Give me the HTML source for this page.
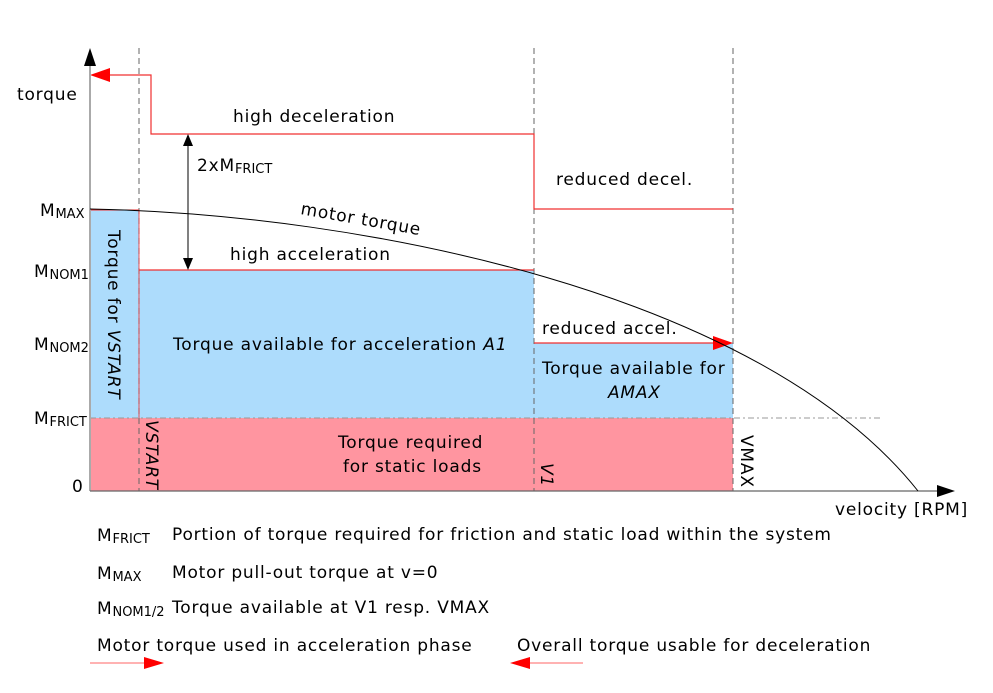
<!DOCTYPE html>
<html><head><style>
body{margin:0;background:#fff}
svg{display:block;font-family:"DejaVu Sans","Liberation Sans",sans-serif;font-size:17px;letter-spacing:0.8px}
</style></head><body>
<svg width="993" height="693" viewBox="0 0 993 693" xmlns="http://www.w3.org/2000/svg">
<rect x="90" y="210" width="49" height="208" fill="#addcfc"/>
<rect x="139" y="270" width="395" height="148" fill="#addcfc"/>
<rect x="534" y="343" width="199" height="75" fill="#addcfc"/>
<rect x="90" y="418" width="643" height="73" fill="#ff95a0"/>
<line x1="90" y1="418" x2="880" y2="418" stroke="#999" stroke-dasharray="6,3,2,3"/>
<g stroke="#666" stroke-dasharray="6,4">
<line x1="139" y1="48" x2="139" y2="491"/>
<line x1="534" y1="48" x2="534" y2="491"/>
<line x1="733" y1="48" x2="733" y2="491"/>
</g>
<path d="M104,75 H151 V134 H534 V209 H733" fill="none" stroke="#f03030" stroke-width="1.2"/>
<path d="M90,75 L110,68 L110,82z" fill="#f00"/>
<line x1="90" y1="210" x2="139" y2="210" stroke="#f03030"/>
<line x1="139" y1="210" x2="139" y2="418" stroke="#f03030" stroke-width="0.8"/>
<line x1="139" y1="270" x2="534" y2="270" stroke="#f03030" stroke-width="1.2"/>
<line x1="534" y1="343" x2="715" y2="343" stroke="#f03030" stroke-width="1.2"/>
<path d="M733,343 L713,336 L713,350z" fill="#f00"/>
<line x1="90" y1="491" x2="90" y2="62" stroke="#aaa" stroke-width="2"/>
<path d="M90,48 L84,66 L96,66z" fill="#000"/>
<line x1="90" y1="491" x2="940" y2="491" stroke="#666" stroke-width="1.2"/>
<path d="M955,491 L937,485 L937,497z" fill="#000"/>
<path d="M90,209 C360,214 760,292 918,491" fill="none" stroke="#000" stroke-width="1"/>
<line x1="188" y1="140" x2="188" y2="264" stroke="#000"/>
<path d="M188,134 L183,146 L193,146z M188,270 L183,258 L193,258z" fill="#000"/>
<text x="17" y="100">torque</text>
<text x="40" y="216">M<tspan font-size="13" letter-spacing="0" dy="2">MAX</tspan></text>
<text x="34" y="277">M<tspan font-size="13" letter-spacing="0" dy="2">NOM1</tspan></text>
<text x="34" y="350">M<tspan font-size="13" letter-spacing="0" dy="2">NOM2</tspan></text>
<text x="34" y="424">M<tspan font-size="13" letter-spacing="0" dy="2">FRICT</tspan></text>
<text x="72" y="492">0</text>
<text x="233" y="122">high deceleration</text>
<text x="197" y="171">2xM<tspan font-size="13" letter-spacing="0" dy="2">FRICT</tspan></text>
<text x="300" y="214" transform="rotate(10 300 214)">motor torque</text>
<text x="230" y="260">high acceleration</text>
<text x="556" y="185">reduced decel.</text>
<text x="542" y="334">reduced accel.</text>
<text x="173" y="350">Torque available for acceleration <tspan font-style="italic">A1</tspan></text>
<text x="542" y="374">Torque available for</text>
<text x="608" y="398" font-style="italic">AMAX</text>
<text x="338" y="448">Torque required</text>
<text x="343" y="472">for static loads</text>
<text x="108" y="230" transform="rotate(90 108 230)">Torque for <tspan font-style="italic">VSTART</tspan></text>
<text x="146" y="420" transform="rotate(90 146 420)" font-style="italic">VSTART</text>
<text x="541" y="463" transform="rotate(90 541 463)" font-style="italic">V1</text>
<text x="741" y="435" transform="rotate(90 741 435)">VMAX</text>
<text x="835" y="515">velocity [RPM]</text>
<text x="97" y="541">M<tspan font-size="13" letter-spacing="0" dy="2">FRICT</tspan></text>
<text x="172" y="540">Portion of torque required for friction and static load within the system</text>
<text x="97" y="579">M<tspan font-size="13" letter-spacing="0" dy="2">MAX</tspan></text>
<text x="172" y="578">Motor pull-out torque at v=0</text>
<text x="97" y="614">M<tspan font-size="13" letter-spacing="0" dy="2">NOM1/2</tspan></text>
<text x="172" y="613">Torque available at V1 resp. VMAX</text>
<text x="97" y="651">Motor torque used in acceleration phase</text>
<text x="517" y="651">Overall torque usable for deceleration</text>
<line x1="90" y1="663" x2="148" y2="663" stroke="#f66"/>
<path d="M164,663 L144,657 L144,669z" fill="#f00"/>
<line x1="530" y1="663" x2="583" y2="663" stroke="#f66"/>
<path d="M510,663 L530,657 L530,669z" fill="#f00"/>
</svg>
</body></html>
